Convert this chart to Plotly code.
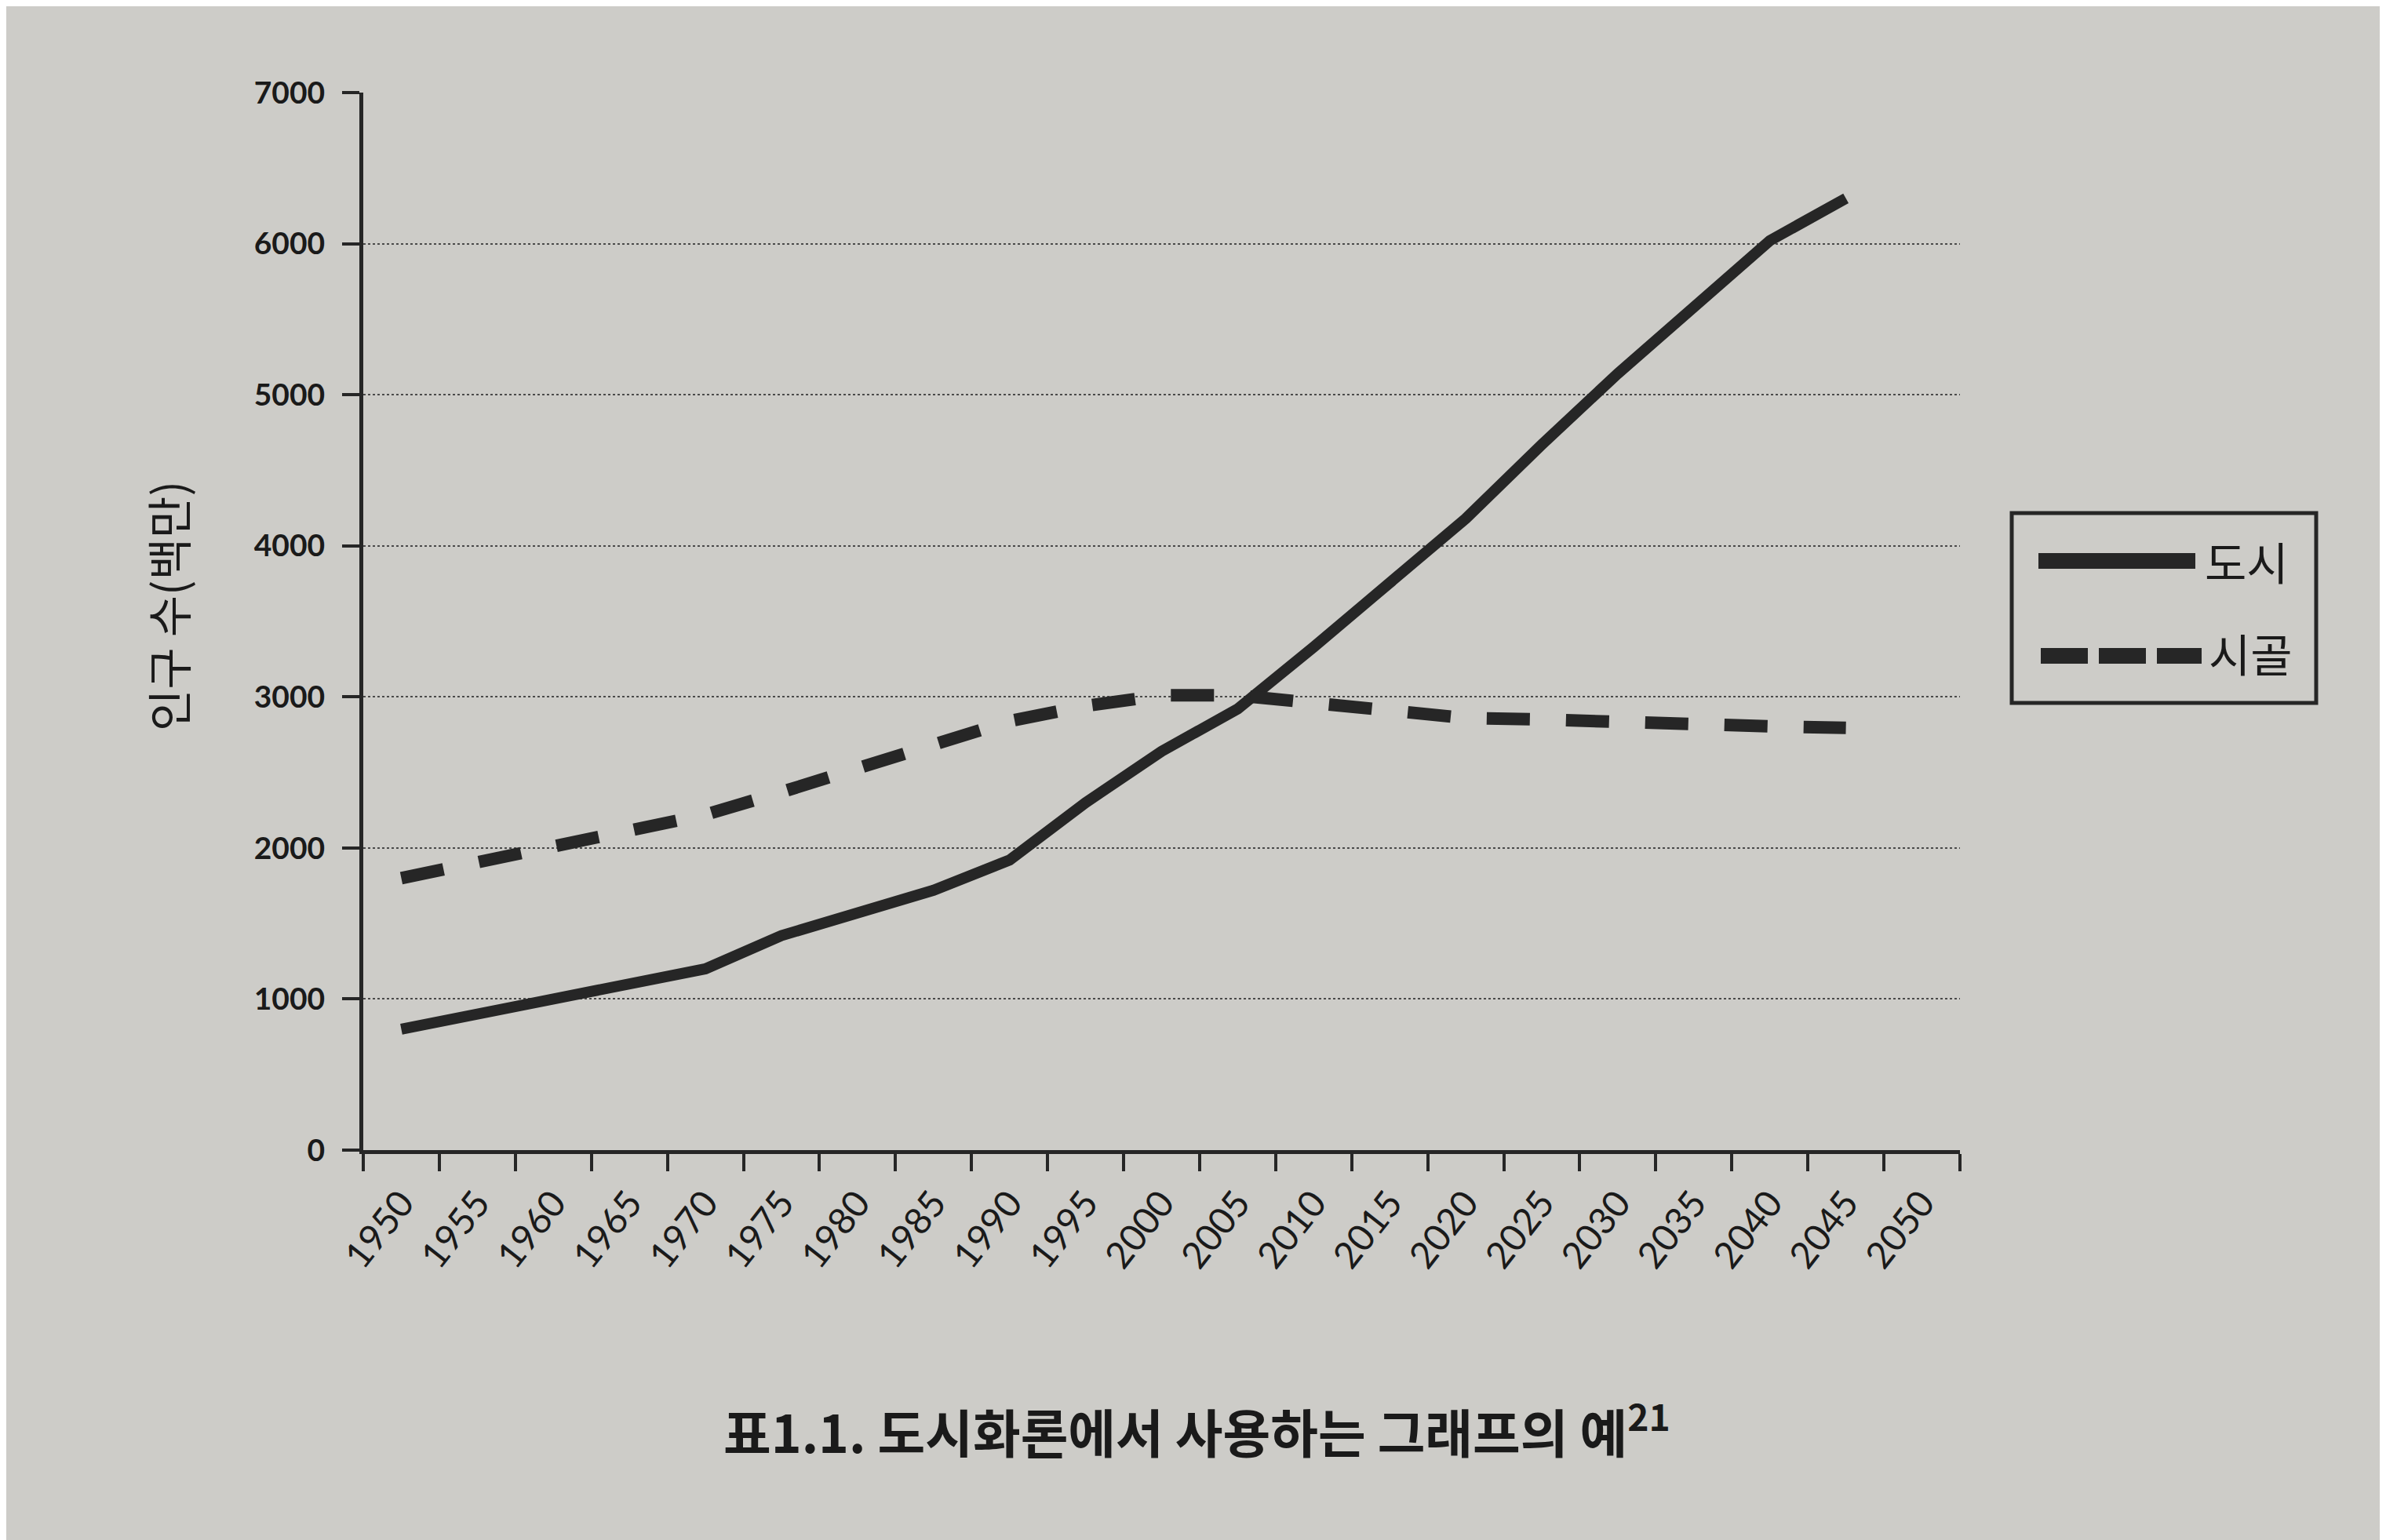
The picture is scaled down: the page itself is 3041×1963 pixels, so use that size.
import plotly.graph_objects as go

# ---- data ----
years = [str(y) for y in range(1950, 2051, 5)]
urban = [800, 900, 1000, 1100, 1200, 1420, 1570, 1720, 1920, 2300, 2640,
         2920, 3330, 3750, 4180, 4670, 5140, 5580, 6020, 6300, None]
rural = [1800, 1900, 2000, 2100, 2220, 2370, 2530, 2700, 2840, 2940, 3010,
         3010, 2960, 2920, 2860, 2850, 2830, 2820, 2805, 2795, None]
series_names = ["도시", "시골"]
y_ticks = [0, 1000, 2000, 3000, 4000, 5000, 6000, 7000]
title_text = "표1.1. 도시화론에서 사용하는 그래프의 예<sup>21</sup>"
y_title = "인구 수(백만)"

# ---- layout geometry (pixels) ----
W, H = 3041, 1963
L, R, T, B = 455, 551, 110, 505
PW, PH = W - L - R, H - T - B
BG = "#cdccc8"
INK = "#262626"


def px(xp):
    return (xp - L) / PW


def py(yp):
    return (H - B - yp) / PH


fig = go.Figure()
fig.add_trace(go.Scatter(x=years, y=urban, mode="lines", name=series_names[0],
                         line=dict(color=INK, width=14), connectgaps=False))
fig.add_trace(go.Scatter(x=years, y=rural, mode="lines", name=series_names[1],
                         line=dict(color=INK, width=16, dash="55px,46px"),
                         connectgaps=False))

fig.update_layout(
    width=W, height=H,
    paper_bgcolor=BG, plot_bgcolor=BG,
    margin=dict(l=L, r=R, t=T, b=B),
    showlegend=False,
)

fig.update_xaxes(
    type="category", categoryarray=years, categoryorder="array",
    range=[-0.5, len(years) - 0.5],
    tickson="boundaries", ticks="outside", ticklen=22, tickwidth=4, tickcolor=INK,
    showline=True, linewidth=5, linecolor=INK, showgrid=False,
    tickangle=-52, ticklabelstandoff=16,
    tickfont=dict(family="Lato", size=47, color="#1a1a1a"),
)
fig.update_yaxes(
    range=[0, 7000], tickmode="array", tickvals=y_ticks, tickformat="d",
    ticks="outside", ticklen=22, tickwidth=4, tickcolor=INK,
    showline=True, linewidth=5, linecolor=INK,
    showgrid=True, gridcolor="#4a4a4a", gridwidth=2, griddash="dot",
    zeroline=False, ticklabelstandoff=14,
    tickfont=dict(family="Lato", size=39, color="#1a1a1a", weight="bold"),
)

# y-axis title
fig.add_annotation(text=y_title, xref="paper", yref="paper",
                   x=px(205), y=py(765), textangle=-90, showarrow=False,
                   xanchor="center", yanchor="middle",
                   font=dict(family="Noto Sans CJK KR", size=58, color="#1a1a1a"))

# caption below chart
fig.add_annotation(text=title_text, xref="paper", yref="paper",
                   x=px(1517), y=py(1812), showarrow=False,
                   xanchor="center", yanchor="middle",
                   font=dict(family="Noto Sans CJK KR", size=66, color="#1a1a1a",
                             weight="bold"))

# legend box (drawn manually to match the large samples)
fig.add_shape(type="rect", xref="paper", yref="paper",
              x0=px(2556), x1=px(2944), y0=py(888), y1=py(646),
              line=dict(color=INK, width=5), fillcolor="rgba(0,0,0,0)")
fig.add_shape(type="line", xref="paper", yref="paper",
              x0=px(2590), x1=px(2790), y0=py(707), y1=py(707),
              line=dict(color=INK, width=20))
fig.add_shape(type="line", xref="paper", yref="paper",
              x0=px(2593), x1=px(2798), y0=py(828), y1=py(828),
              line=dict(color=INK, width=20, dash="60px,14px"))
fig.add_annotation(text=series_names[0], xref="paper", yref="paper",
                   x=px(2800), y=py(707), showarrow=False,
                   xanchor="left", yanchor="middle",
                   font=dict(family="Noto Sans CJK KR", size=58, color="#1a1a1a"))
fig.add_annotation(text=series_names[1], xref="paper", yref="paper",
                   x=px(2805), y=py(824), showarrow=False,
                   xanchor="left", yanchor="middle",
                   font=dict(family="Noto Sans CJK KR", size=58, color="#1a1a1a"))

fig.write_html("out.html")
